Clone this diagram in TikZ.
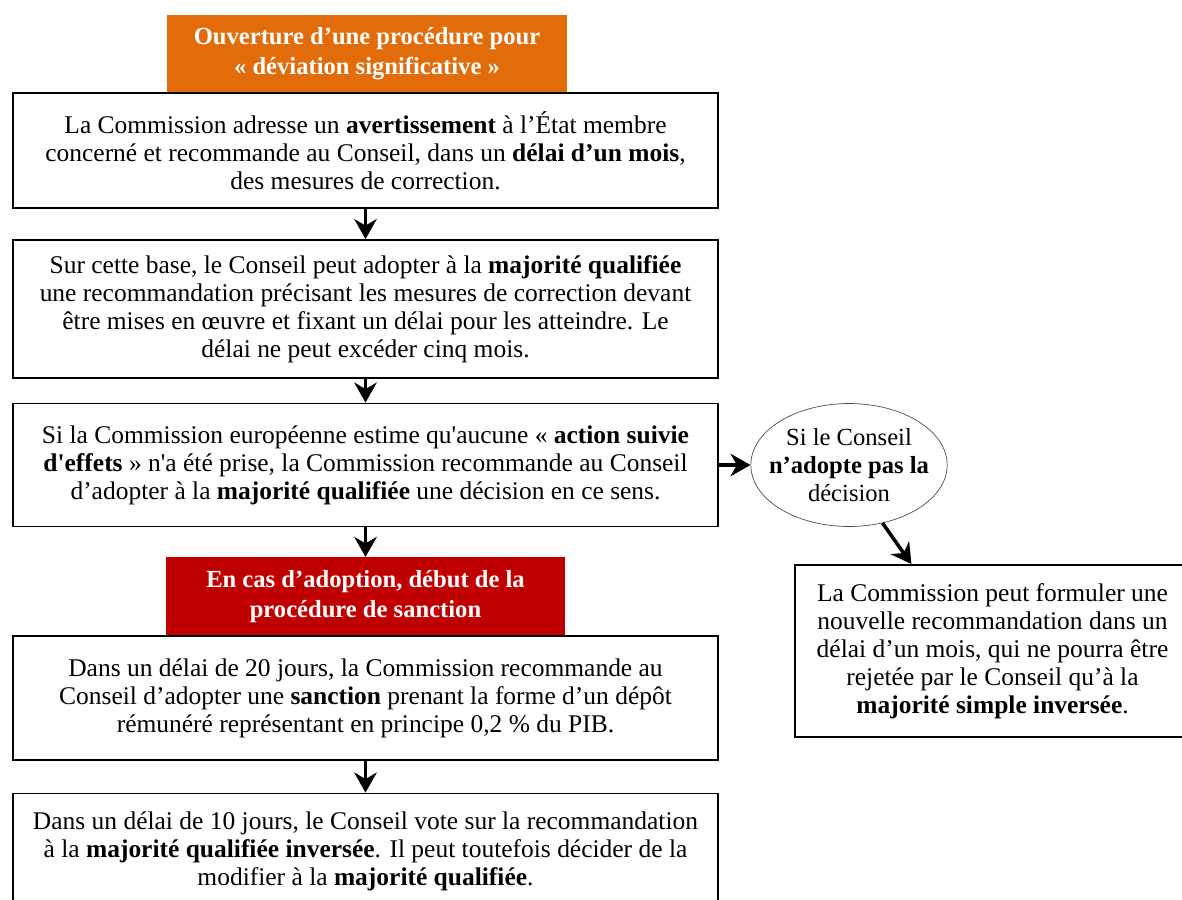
\documentclass[tikz,border=0pt]{standalone}
\usepackage{fontspec}
\setmainfont{Liberation Serif}
\usetikzlibrary{positioning, arrows.meta, shapes.geometric}
\definecolor{orangehead}{HTML}{E36C0A}
\definecolor{redhead}{HTML}{C00000}
\tikzset{
  etape/.style={draw, line width=1.1pt, align=center, minimum width=14.1cm, inner sep=0pt, font=\fontsize{14.5}{16}\selectfont},
  entete/.style={align=center, text=white, minimum width=8cm, minimum height=1.57cm, inner sep=0pt, font=\bfseries\fontsize{14}{17}\selectfont},
  fleche/.style={line width=2pt, -{Stealth[length=4mm, width=4.5mm]}}
}

\begin{document}
\begin{tikzpicture}[x=0.02cm, y=-0.02cm]
            \useasboundingbox (0,0) rectangle (1182,899);
            \clip (0,0) rectangle (1182,899);
            \node[entete, fill=orangehead] (ouverture) at (367,54) {Ouverture d’une procédure pour\\« déviation significative »};
            \node[entete, fill=redhead] (sanction) at (365.5,596.5) {En cas d’adoption, début de la\\procédure de sanction};
            \node[etape, minimum height=2.3cm] (avertissement) at (365.5,150.5) {La Commission adresse un \textbf{avertissement} à l’État membre\\concerné et recommande au Conseil, dans un \textbf{délai d’un mois},\\des mesures de correction.};
            \node[etape, minimum height=2.76cm] (recommandation) at (365.5,309) {Sur cette base, le Conseil peut adopter à la \textbf{majorité qualifiée}\\une recommandation précisant les mesures de correction devant\\être mises en œuvre et fixant un délai pour les atteindre. Le\\délai ne peut excéder cinq mois.};
            \node[etape, minimum height=2.46cm] (decision) at (365.5,465) {Si la Commission européenne estime qu\textquotesingle aucune « \textbf{action suivie}\\\textbf{d\textquotesingle effets} » n\textquotesingle a été prise, la Commission recommande au Conseil\\d’adopter à la \textbf{majorité qualifiée} une décision en ce sens.};
            \node[etape, minimum height=2.48cm] (depot) at (365.5,698) {Dans un délai de 20 jours, la Commission recommande au\\Conseil d’adopter une \textbf{sanction} prenant la forme d’un dépôt\\rémunéré représentant en principe 0,2 \% du PIB.};
            \node[etape, minimum height=2.3cm] (vote) at (365.5,851) {Dans un délai de 10 jours, le Conseil vote sur la recommandation\\à la \textbf{majorité qualifiée inversée}. Il peut toutefois décider de la\\modifier à la \textbf{majorité qualifiée}.};
            \node[ellipse, draw=black!70, thin, align=center, minimum width=3.64cm, minimum height=2.46cm, inner xsep=-6pt, inner ysep=0pt, font=\fontsize{14}{16}\selectfont] (refus) at (849,465) {Si le Conseil\\\textbf{n’adopte pas la}\\décision};
            \node[etape, minimum width=7.9cm, minimum height=3.44cm] (nouvelle) at (992.5,651) {La Commission peut formuler une\\nouvelle recommandation dans un\\délai d’un mois, qui ne pourra être\\rejetée par le Conseil qu’à la\\\textbf{majorité simple inversée}.};
            \draw[fleche] (avertissement) -- (recommandation);
            \draw[fleche] (recommandation) -- (decision);
            \draw[fleche] (decision) -- (sanction);
            \draw[fleche] (depot) -- (vote);
            \draw[fleche] (decision.east) -- (refus.west);
            \draw[fleche] (refus.-60) -- (nouvelle.133);
        \end{tikzpicture}
\end{document}
